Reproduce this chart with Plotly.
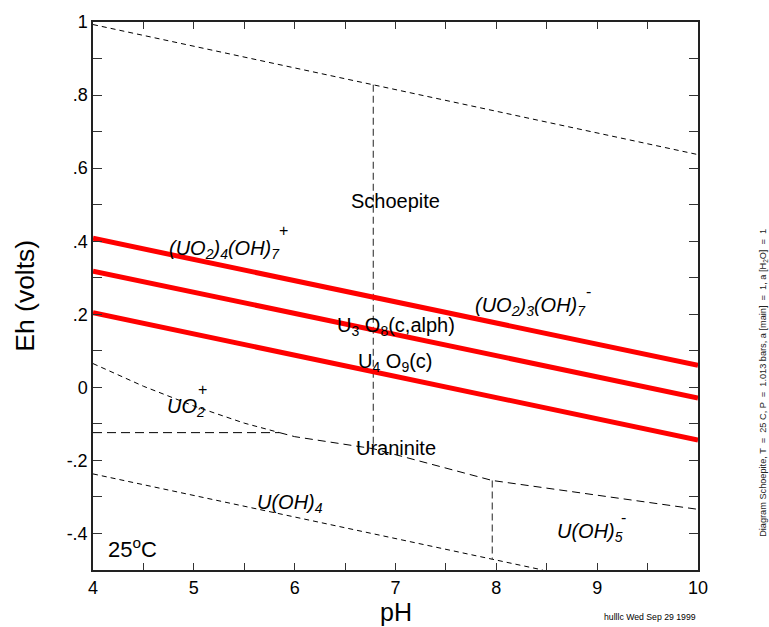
import plotly.graph_objects as go

# ---- data (pH, Eh in volts) ----
red_top_ph = [4, 10]
red_top_eh = [0.408, 0.060]
red_mid_ph = [4, 10]
red_mid_eh = [0.318, -0.029]
red_bot_ph = [4, 10]
red_bot_eh = [0.204, -0.144]

o2_ph = [4, 6.78, 8.0, 10]
o2_eh = [0.993, 0.828, 0.756, 0.637]

h2_ph = [4, 7.96, 8.46]
h2_eh = [-0.237, -0.471, -0.5]

uo2_ph = [4, 4.5, 5.0, 5.5, 5.85]
uo2_eh = [0.065, 0.003, -0.051, -0.098, -0.124]

uran_ph = [5.85, 6.0, 6.78, 7.96, 10]
uran_eh = [-0.124, -0.135, -0.168, -0.255, -0.334]

horiz_ph = [4, 5.85]
horiz_eh = [-0.124, -0.124]

vert1_ph = [6.78, 6.78]
vert1_eh = [0.828, -0.168]
vert2_ph = [7.96, 7.96]
vert2_eh = [-0.255, -0.471]

# (text, pH, Eh, italic)
labels = [
    ("Schoepite", 7.0, 0.509, False),
    ("(UO<sub>2</sub>)<sub>4</sub>(OH)<sub>7</sub>", 5.30, 0.378, True),
    ("(UO<sub>2</sub>)<sub>3</sub>(OH)<sub>7</sub>", 8.34, 0.222, True),
    ("U<sub>3</sub> O<sub>8</sub>(c,alph)", 7.0, 0.166, False),
    ("U<sub>4</sub> O<sub>9</sub>(c)", 7.0, 0.068, False),
    ("UO<sub>2</sub>", 4.92, -0.056, True),
    ("Uraninite", 7.0, -0.165, False),
    ("U(OH)<sub>4</sub>", 5.95, -0.318, True),
    ("U(OH)<sub>5</sub>", 8.93, -0.398, True),
]
# charges drawn above the subscripts (text, pH, Eh)
charges = [
    ("+", 5.885, 0.430),
    ("-", 8.91, 0.262),
    ("+", 5.09, -0.005),
    ("-", 9.26, -0.355),
]

x_tickvals = [4 + 0.5 * i for i in range(13)]
x_ticktext = [str(int(v)) if v == int(v) else "" for v in x_tickvals]
y_tickvals = [round(-0.5 + 0.1 * i, 1) for i in range(16)]
y_label_map = {1.0: "1", 0.8: ".8", 0.6: ".6", 0.4: ".4", 0.2: ".2", 0.0: "0", -0.2: "-.2", -0.4: "-.4"}
y_ticktext = [y_label_map.get(v, "") for v in y_tickvals]

FONT = "Liberation Sans, Arial, sans-serif"

fig = go.Figure()

def dline(x, y, color="black", dash="5px,4px", width=1):
    fig.add_trace(go.Scatter(x=x, y=y, mode="lines", showlegend=False, hoverinfo="skip",
                             line=dict(color=color, width=width, dash=dash)))

dline(o2_ph, o2_eh)
dline(h2_ph, h2_eh)
dline(uo2_ph, uo2_eh)
dline(uran_ph, uran_eh, dash="8px,5px")
dline(horiz_ph, horiz_eh, dash="9px,5px")
dline(vert1_ph, vert1_eh, color="#555555", dash="7px,4px", width=1.3)
dline(vert2_ph, vert2_eh, color="#555555", dash="7px,4px", width=1.3)

for xs, ys in [(red_top_ph, red_top_eh), (red_mid_ph, red_mid_eh), (red_bot_ph, red_bot_eh)]:
    fig.add_trace(go.Scatter(x=xs, y=ys, mode="lines", showlegend=False, hoverinfo="skip",
                             line=dict(color="#ff0000", width=5)))

for text, x, y, ital in labels:
    t = f"<i>{text}</i>" if ital else text
    fig.add_annotation(x=x, y=y, text=t, showarrow=False, xanchor="center", yanchor="middle",
                       font=dict(family=FONT, size=20, color="black"))

for text, x, y in charges:
    fig.add_annotation(x=x, y=y, text=text, showarrow=False, xanchor="center", yanchor="middle",
                       font=dict(family=FONT, size=16, color="black"))

fig.add_annotation(x=4.13, y=-0.44, text="25<sup>o</sup>C", showarrow=False, xanchor="left",
                   yanchor="middle", font=dict(family=FONT, size=22, color="black"))

# axis titles
fig.add_annotation(xref="paper", yref="paper", x=0.5, y=-0.1034, text="pH", showarrow=False,
                   xanchor="center", yanchor="bottom", borderpad=0,
                   font=dict(family=FONT, size=25, color="black"))
fig.add_annotation(xref="paper", yref="paper", x=-0.1124, y=0.5005, text="Eh (volts)", showarrow=False,
                   textangle=-90, xanchor="center", yanchor="middle",
                   font=dict(family=FONT, size=26.5, color="black"))

fig.add_annotation(xref="paper", yref="paper", x=1.0, y=-0.085, text="hulllc Wed Sep 29 1999",
                   showarrow=False, xanchor="right", yanchor="middle",
                   font=dict(family=FONT, size=8.7, color="black"))
fig.add_annotation(xref="paper", yref="paper", x=1.107, y=0.341,
                   text="Diagram Schoepite, T  =  25 C, P  =  1.013 bars, a [main]  =  1, a [H<sub>2</sub>O]  =  1",
                   showarrow=False, textangle=-90, xanchor="center", yanchor="middle",
                   font=dict(family=FONT, size=9.2, color="#222"))

fig.update_layout(
    width=769, height=627,
    margin=dict(l=93, r=71, t=19, b=57),
    plot_bgcolor="white", paper_bgcolor="white",
    font=dict(family=FONT, color="black"),
    xaxis=dict(range=[4, 10], tickvals=x_tickvals, ticktext=x_ticktext, ticks="inside", ticklen=7,
               tickwidth=1, tickcolor="#333", showline=True, linecolor="#222", linewidth=1.5,
               mirror="ticks", showgrid=False, zeroline=False, ticklabelstandoff=1,
               tickfont=dict(size=18, family=FONT)),
    yaxis=dict(range=[-0.5, 1], tickvals=y_tickvals, ticktext=y_ticktext, ticks="inside", ticklen=9,
               tickwidth=1, tickcolor="#333", showline=True, linecolor="#222", linewidth=1.5,
               mirror="ticks", showgrid=False, zeroline=False,
               tickfont=dict(size=18, family=FONT)),
)

fig.write_html("out.html")
